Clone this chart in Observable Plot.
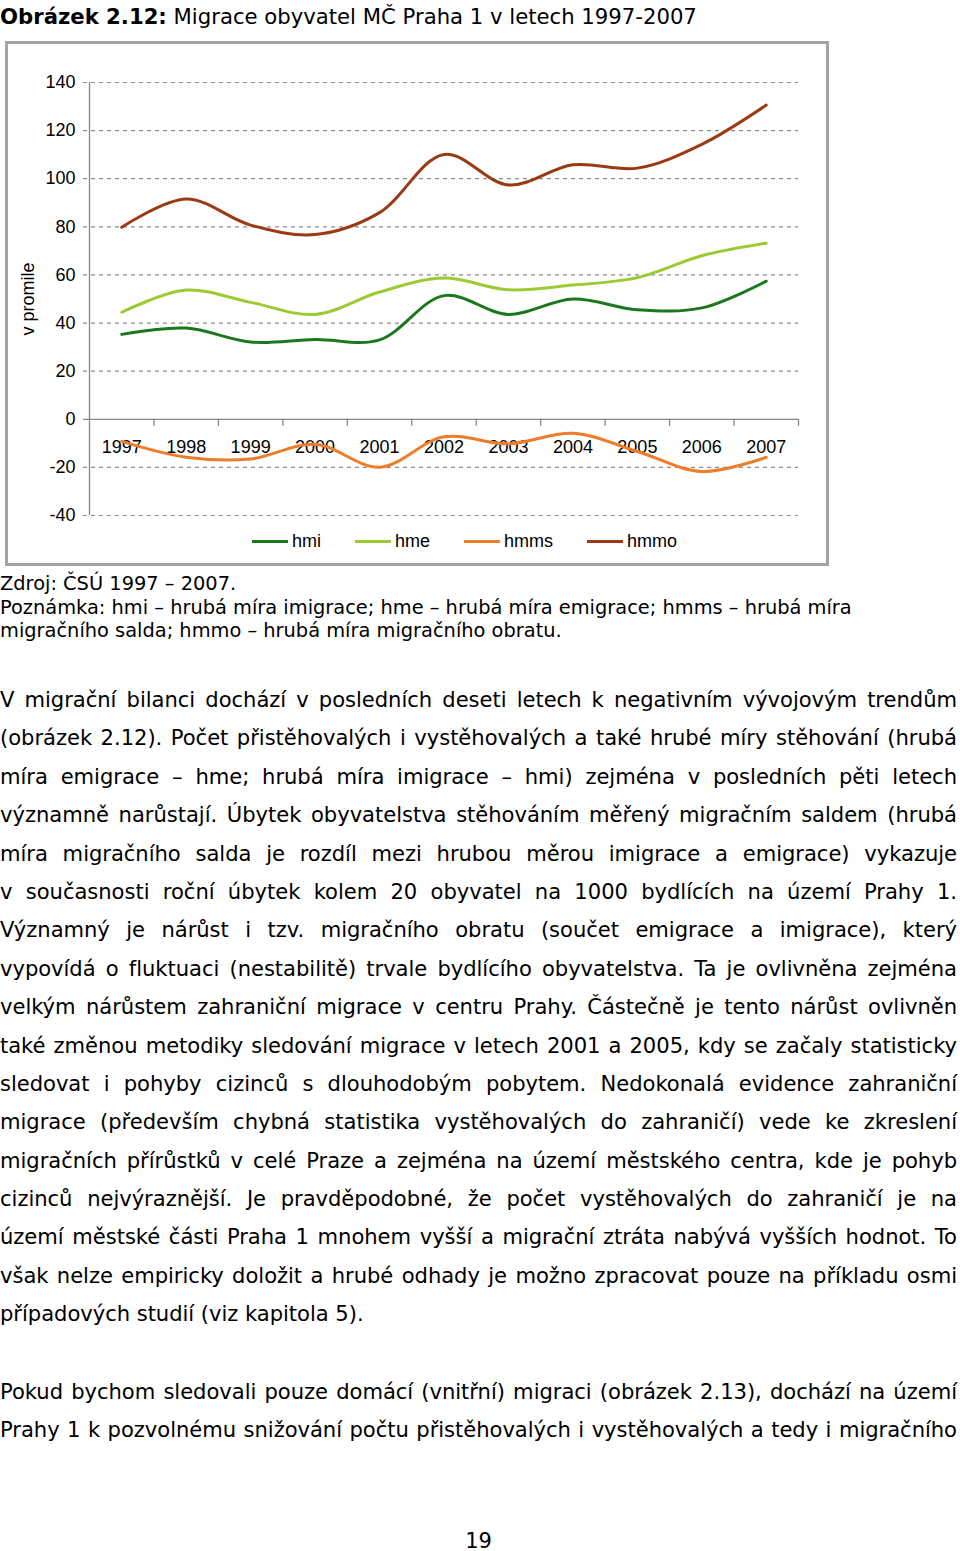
<!DOCTYPE html>
<html>
<head>
<meta charset="utf-8">
<script src="https://cdn.jsdelivr.net/npm/d3@7"></script>
<script src="https://cdn.jsdelivr.net/npm/@observablehq/plot@0.6"></script>
<style>
html, body { margin: 0; padding: 0; background: #fff; }
body { position: relative; width: 960px; height: 1551px; overflow: hidden; font-family: "DejaVu Sans", Verdana, sans-serif; color: #000; }
#title { position: absolute; left: 0; top: 3px; font-size: 21.2px; line-height: 28px; white-space: nowrap; }
#box { position: absolute; left: 5px; top: 41px; width: 824px; height: 525px; border: 3px solid #a4a4a4; box-sizing: border-box; }
#chart { position: absolute; left: 0; top: 40px; }
#legend { position: absolute; left: 252px; top: 530px; height: 22px; display: flex; align-items: center; font-family: "Liberation Sans", Arial, sans-serif; font-size: 18px; }
#legend .item { display: flex; align-items: center; margin-right: 34px; }
#legend .swatch { display: inline-block; width: 36px; height: 3px; margin-right: 4px; }
#note { position: absolute; left: 0; top: 572px; font-size: 19.4px; line-height: 23.5px; white-space: nowrap; }
.para { position: absolute; left: 0; width: 957px; font-size: 21.1px; letter-spacing: -0.04px; }
.para div { height: 38.4px; line-height: 38.4px; text-align: justify; text-align-last: justify; overflow: visible; }
.para div.last { text-align-last: left; }
#page { position: absolute; left: 0; top: 1527px; width: 957px; text-align: center; font-size: 21px; line-height: 28px; }
</style>
</head>
<body>
<div id="title"><b>Obrázek 2.12:</b> Migrace obyvatel MČ Praha 1 v letech 1997-2007</div>
<div id="box"></div>
<div id="chart"></div>
<div id="legend"></div>
<div id="note">Zdroj: ČSÚ 1997 – 2007.<br>Poznámka: hmi – hrubá míra imigrace; hme – hrubá míra emigrace; hmms – hrubá míra<br>migračního salda; hmmo – hrubá míra migračního obratu.</div>
<div class="para" style="top:681px">
<div>V migrační bilanci dochází v posledních deseti letech k negativním vývojovým trendům</div>
<div>(obrázek 2.12). Počet přistěhovalých i vystěhovalých a také hrubé míry stěhování (hrubá</div>
<div>míra emigrace – hme; hrubá míra imigrace – hmi) zejména v posledních pěti letech</div>
<div>významně narůstají. Úbytek obyvatelstva stěhováním měřený migračním saldem (hrubá</div>
<div>míra migračního salda je rozdíl mezi hrubou měrou imigrace a emigrace) vykazuje</div>
<div>v současnosti roční úbytek kolem 20 obyvatel na 1000 bydlících na území Prahy 1.</div>
<div>Významný je nárůst i tzv. migračního obratu (součet emigrace a imigrace), který</div>
<div>vypovídá o fluktuaci (nestabilitě) trvale bydlícího obyvatelstva. Ta je ovlivněna zejména</div>
<div>velkým nárůstem zahraniční migrace v centru Prahy. Částečně je tento nárůst ovlivněn</div>
<div>také změnou metodiky sledování migrace v letech 2001 a 2005, kdy se začaly statisticky</div>
<div>sledovat i pohyby cizinců s dlouhodobým pobytem. Nedokonalá evidence zahraniční</div>
<div>migrace (především chybná statistika vystěhovalých do zahraničí) vede ke zkreslení</div>
<div>migračních přírůstků v celé Praze a zejména na území městského centra, kde je pohyb</div>
<div>cizinců nejvýraznější. Je pravděpodobné, že počet vystěhovalých do zahraničí je na</div>
<div>území městské části Praha 1 mnohem vyšší a migrační ztráta nabývá vyšších hodnot. To</div>
<div>však nelze empiricky doložit a hrubé odhady je možno zpracovat pouze na příkladu osmi</div>
<div class="last">případových studií (viz kapitola 5).</div>
</div>
<div class="para" style="top:1373px">
<div>Pokud bychom sledovali pouze domácí (vnitřní) migraci (obrázek 2.13), dochází na území</div>
<div>Prahy 1 k pozvolnému snižování počtu přistěhovalých i vystěhovalých a tedy i migračního</div>
</div>
<div id="page">19</div>
<script>
// ---- data ----
const years = [1997, 1998, 1999, 2000, 2001, 2002, 2003, 2004, 2005, 2006, 2007];
const hmi  = [35.3, 37.9, 32.1, 33.2, 33.0, 51.4, 43.6, 50.0, 45.5, 46.3, 57.4];
const hme  = [44.5, 53.7, 48.6, 43.6, 52.9, 58.7, 53.8, 55.8, 58.9, 68.0, 73.2];
const hmms = [-9.2, -15.8, -16.5, -10.4, -19.9, -7.3, -10.2, -5.8, -13.4, -21.7, -15.8];
const hmmo = [79.8, 91.6, 80.7, 76.8, 85.9, 110.1, 97.4, 105.8, 104.4, 114.3, 130.6];
const seriesNames = ["hmi", "hme", "hmms", "hmmo"];
const seriesColors = ["#1c781c", "#9bcb34", "#ef7c29", "#9a3a12"];
const yTicks = [-40, -20, 0, 20, 40, 60, 80, 100, 120, 140];
const yLabel = "v promile";

// ---- build table ----
const seriesValues = {hmi, hme, hmms, hmmo};
const rows = [];
for (const name of seriesNames) {
  years.forEach((yr, i) => rows.push({series: name, year: yr, value: seriesValues[name][i]}));
}
const boundaries = [years[0] - 0.5, ...years.map(y => y + 0.5)];

const gridColor = "#8c8c8c";
const axisColor = "#868686";

const chart = Plot.plot({
  width: 830,
  height: 490,
  marginTop: 42,
  marginBottom: 15,
  marginLeft: 89,
  marginRight: 32,
  style: {background: "transparent", fontFamily: "'Liberation Sans', Arial, sans-serif", fontSize: "18px", color: "#000"},
  x: {domain: [years[0] - 0.5, years[years.length - 1] + 0.5], axis: null},
  y: {domain: [yTicks[0], yTicks[yTicks.length - 1]]},
  color: {domain: seriesNames, range: seriesColors},
  marks: [
    Plot.ruleY(yTicks.filter(d => d !== 0), {stroke: gridColor, strokeWidth: 1.2, strokeDasharray: "4,4", insetLeft: -6}),
    Plot.ruleY([0], {stroke: axisColor, strokeWidth: 1.3, insetLeft: -6}),
    Plot.ruleX([boundaries[0]], {stroke: axisColor, strokeWidth: 1.3}),
    Plot.ruleX(boundaries.slice(1), {y1: () => 0, y2: () => 0, insetBottom: -7, stroke: axisColor, strokeWidth: 1.3}),
    Plot.axisY({ticks: yTicks, tickSize: 0, tickPadding: 14, tickFormat: d => String(d), fontSize: 18, fill: "#000",
      label: yLabel, labelAnchor: "center", labelArrow: false, labelOffset: 68}),
    Plot.text(years, {x: d => d, y: () => 0, text: d => String(d), dy: 28, fontSize: 18, fill: "#000"}),
    Plot.line(rows, {x: "year", y: "value", z: "series", stroke: "series", strokeWidth: 3, curve: "catmull-rom"})
  ]
});
document.getElementById("chart").appendChild(chart);

// ---- legend ----
const legend = document.getElementById("legend");
seriesNames.forEach((name, i) => {
  const item = document.createElement("div");
  item.className = "item";
  const sw = document.createElement("span");
  sw.className = "swatch";
  sw.style.background = seriesColors[i];
  const lab = document.createElement("span");
  lab.textContent = name;
  item.appendChild(sw);
  item.appendChild(lab);
  legend.appendChild(item);
});
</script>
</body>
</html>
